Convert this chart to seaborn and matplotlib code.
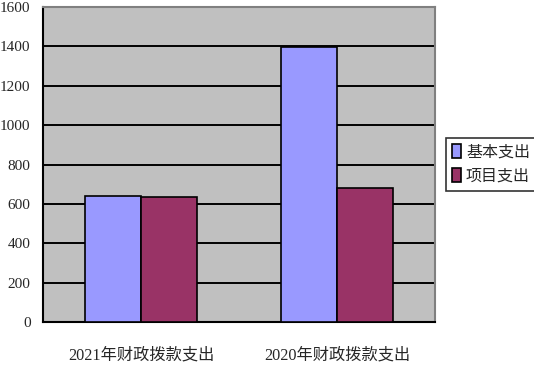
import matplotlib
matplotlib.use("Agg")
import matplotlib.pyplot as plt
import seaborn as sns
import pandas as pd

categories = ["2021年财政拨款支出", "2020年财政拨款支出"]
series_names = ["基本支出", "项目支出"]
basic = [642, 1398]
project = [637, 682]
yticks = [0, 200, 400, 600, 800, 1000, 1200, 1400, 1600]

df = pd.DataFrame({
    "cat": categories * 2,
    "series": [series_names[0]] * 2 + [series_names[1]] * 2,
    "value": basic + project,
})

sns.set_style("white")
plt.rcParams["font.family"] = ["Liberation Serif", "Noto Sans CJK SC"]

fig = plt.figure(figsize=(5.34, 3.65), dpi=100)
ax = fig.add_axes([43/534, 1-322/365, (435-43)/534, (322-7)/365])
ax.set_facecolor("#C0C0C0")

sns.barplot(data=df, x="cat", y="value", hue="series", order=categories,
            hue_order=series_names, palette=["#9999FF", "#993366"],
            saturation=1, width=0.57, edgecolor="black", linewidth=1.2,
            ax=ax, zorder=3)

ax.set_ylim(0, 1600)
ax.set_yticks(yticks)
ax.set_yticklabels([str(v) for v in yticks], fontsize=11)
ax.yaxis.grid(True, color="black", linewidth=1.4, zorder=1)
ax.set_axisbelow(True)
ax.tick_params(axis="y", length=0, pad=9)
ax.tick_params(axis="x", length=0, pad=18, labelsize=11.7)
ax.set_xlim(-0.5, 1.5)
ax.set_xticks([0.5], minor=True)
ax.tick_params(axis="x", which="minor", direction="in", length=9, width=1, color="black")
ax.set_xlabel("")
ax.set_ylabel("")

for s in ["left", "bottom"]:
    ax.spines[s].set_color("black")
    ax.spines[s].set_linewidth(1.5)
for s in ["top", "right"]:
    ax.spines[s].set_color("#808080")
    ax.spines[s].set_linewidth(1.5)
    ax.spines[s].set_visible(True)

leg = ax.legend(loc="center left", bbox_to_anchor=(446/534, 1-164.5/365),
                bbox_transform=fig.transFigure, frameon=True, fancybox=False,
                edgecolor="black", fontsize=11.5, handlelength=0.55, handleheight=0.9,
                handletextpad=0.3, borderpad=0.4, labelspacing=0.5, borderaxespad=0)
leg.get_frame().set_linewidth(1.2)

fig.savefig("out.png", dpi=100)
